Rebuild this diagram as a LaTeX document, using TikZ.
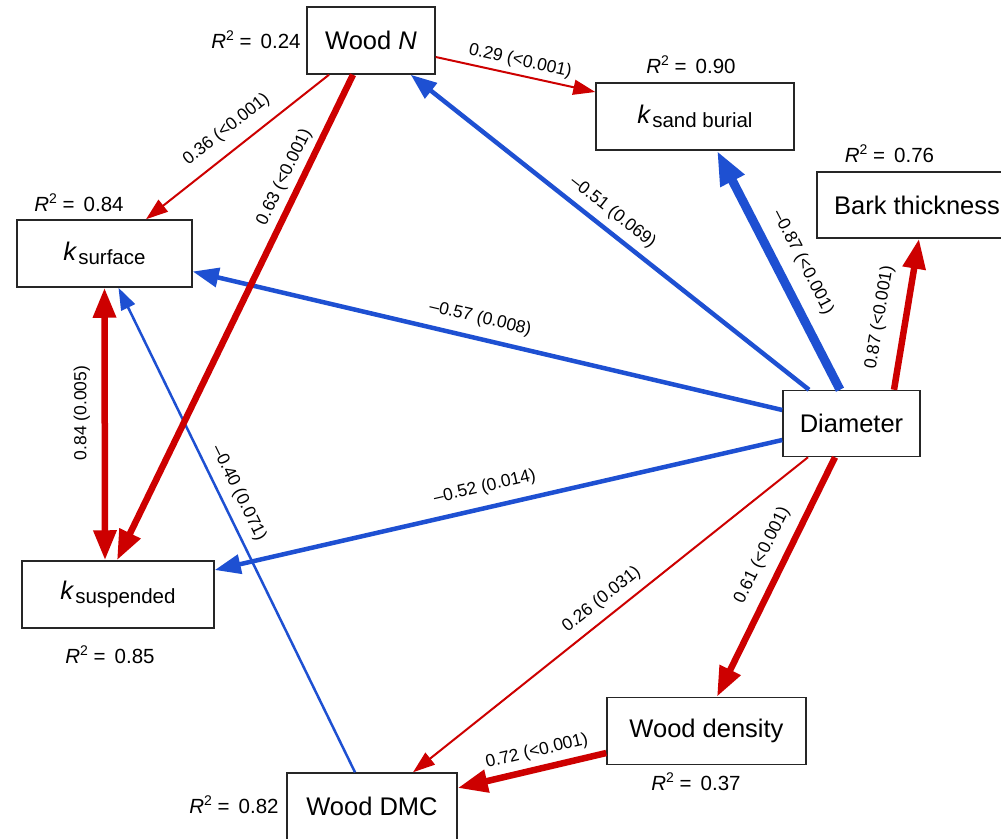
\documentclass[tikz,border=0pt]{standalone}
\usepackage{fontspec}
\setmainfont{Liberation Sans}
\usetikzlibrary{arrows.meta,calc}
\definecolor{pred}{RGB}{205,0,0}
\definecolor{pblue}{RGB}{30,80,210}
\newcommand{\kvar}[1]{\textit{k}\hspace{1pt}\raisebox{-4pt}{\fontsize{20.5}{24}\selectfont #1}}
\newcommand{\rsq}[1]{\textit{R}\raisebox{8pt}{\fontsize{14}{16}\selectfont 2} = \,#1}
\begin{document}
\begin{tikzpicture}[x=1pt,y=-1pt,
  box/.style={draw=black!85, line width=1.5pt, fill=white, inner sep=0pt, font=\fontsize{25.5}{30}\selectfont},
  rlab/.style={font=\fontsize{20.5}{24}\selectfont, inner sep=0pt},
  elabfont/.style={font=\fontsize{17.5}{20}\selectfont, inner sep=1pt},
  elab/.style={elabfont, sloped},
  thinred/.style={draw=pred, line width=2pt, -{Triangle[length=22pt,width=15pt]}},
  thinblue/.style={draw=pblue, line width=2.5pt, -{Triangle[length=22pt,width=15pt]}},
  medblue/.style={draw=pblue, line width=4.5pt, -{Triangle[length=26pt,width=19pt]}},
  thickred/.style={draw=pred, line width=6.5pt, -{Triangle[length=30pt,width=22pt]}},
  thickblue/.style={draw=pblue, line width=9pt, -{Triangle[length=34pt,width=25pt]}}
]
\useasboundingbox (0,0) rectangle (1001,838);
\fill[white] (0,0) rectangle (1001,838);
\clip (0,0) rectangle (1001,838);

% boxes
\node[box, minimum width=128pt, minimum height=67pt] (woodN) at (371,40.5) {Wood \textit{N}};
\node[box, minimum width=175pt, minimum height=67pt] (ksurf) at (104.5,253.5) {\kvar{surface}\hspace{17pt}};
\node[box, minimum width=198pt, minimum height=67pt] (ksand) at (695,116.5) {\kvar{sand burial}\hspace{34pt}};
\node[box, minimum width=200pt, minimum height=66pt] (bark) at (917,205) {Bark thickness};
\node[box, minimum width=137pt, minimum height=66pt] (diam) at (851.5,423.5) {Diameter};
\node[box, minimum width=192pt, minimum height=67pt] (ksusp) at (118,594.5) {\kvar{suspended}\hspace{26pt}};
\node[box, minimum width=199pt, minimum height=67pt] (wdens) at (706.5,731) {Wood density};
\node[box, minimum width=170pt, minimum height=67pt] (wdmc) at (372,806.5) {Wood DMC};

% R2 labels
\node[rlab] (r1) at (256,40) {\rsq{0.24}};
\node[rlab] (r2) at (79,203) {\rsq{0.84}};
\node[rlab] (r3) at (691,65) {\rsq{0.90}};
\node[rlab] (r4) at (889.5,154) {\rsq{0.76}};
\node[rlab] (r5) at (110,655) {\rsq{0.85}};
\node[rlab] (r6) at (696,782) {\rsq{0.37}};
\node[rlab] (r7) at (234,805) {\rsq{0.82}};

% blue connectors
\draw[medblue] ($(diam.north)+(-42.5,0)$) -- node[elab,pos=0.52,above=6pt]{–0.51 (0.069)} ($(woodN.south east)+(-25,0)$);
\draw[thickblue] ($(diam.north)+(-11.5,0)$) -- node[elab,pos=0.485,above=11.5pt]{–0.87 (<0.001)} ($(ksand.south)+(22,0)$);
\draw[medblue] ($(diam.west)+(0,-13.5)$) -- node[elab,pos=0.52,above=8.5pt]{–0.57 (0.008)} ($(ksurf.east)+(0,18)$);
\draw[medblue] ($(diam.west)+(0,16.5)$) -- node[elab,pos=0.516,above=9pt]{–0.52 (0.014)} ($(ksusp.east)+(0,-24.5)$);
\draw[thinblue] ($(wdmc.north)+(-17,0)$) -- node[elab,pos=0.56,above=7.5pt]{–0.40 (0.071)} ($(ksurf.south)+(14,0)$);

% red connectors
\draw[thinred] ($(woodN.east)+(0,16.5)$) -- node[elab,pos=0.51,above=4pt]{0.29 (<0.001)} ($(ksand.west)+(0,-24.5)$);
\draw[thinred] ($(woodN.south)+(-42,0)$) -- node[elab,pos=0.49,above=10.5pt]{0.36 (<0.001)} ($(ksurf.north)+(41.5,0)$);
\draw[thickred] ($(woodN.south)+(-18,0)$) -- node[elab,pos=0.226,above=4.5pt]{0.63 (<0.001)} ($(ksusp.north)+(-1,0)$);
\draw[thickred] ($(diam.north)+(42.5,0)$) -- node[elab,pos=0.45,above=13.5pt]{0.87 (<0.001)} ($(bark.south)+(2,0)$);
\draw[thinred] ($(diam.south)+(-43.5,0)$) -- node[elab,pos=0.495,above=7pt]{0.26 (0.031)} ($(wdmc.north)+(41,0)$);
\draw[thickred] ($(diam.south)+(-16.5,0)$) -- node[elab,pos=0.45,above=9.5pt]{0.61 (<0.001)} ($(wdens.north)+(10.5,0)$);
\draw[thickred] ($(wdens.west)+(0,22)$) -- node[elab,pos=0.44,above=5pt]{0.72 (<0.001)} ($(wdmc.east)+(0,-18.5)$);
\draw[thickred,{Triangle[length=30pt,width=22pt]}-{Triangle[length=30pt,width=22pt]}] ($(ksusp.north)+(-13,0)$) -- node[elabfont,pos=0.54,xshift=-23pt,rotate=90]{0.84 (0.005)} (ksurf.south);
\end{tikzpicture}
\end{document}
